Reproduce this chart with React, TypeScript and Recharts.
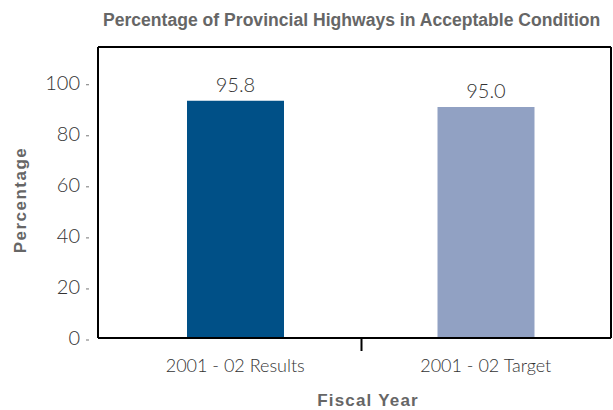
import React from 'react';
import { BarChart, Bar, XAxis, YAxis, Cell, LabelList } from 'recharts';

const categories = ['2001 - 02 Results', '2001 - 02 Target'];
const barHeights = [92.9, 90.5];
const valueLabels = ['95.8', '95.0'];
const yTicks = [0, 20, 40, 60, 80, 100];
const colors = ['#005087', '#91a1c3'];

const data = categories.map((name, i) => ({ name, value: barHeights[i], label: valueLabels[i] }));

const LIGHT = 'Lato, "Open Sans", sans-serif';
const BOLD = '"Liberation Sans", Arial, sans-serif';

const YTick = (props: any) => {
  const { x, y, payload } = props;
  return (
    <g>
      <text x={x - 10} y={y} dy={7} textAnchor="end" fontFamily={LIGHT} fontWeight={300} fontSize={20} fill="#333">
        {payload.value}
      </text>
      <line x1={x - 4} x2={x - 1} y1={y + 2} y2={y + 2} stroke="#777" strokeWidth={1} />
    </g>
  );
};

const XTick = (props: any) => {
  const { x, y, payload, index } = props;
  const half = payload && typeof payload.offset === 'number' ? payload.offset : 0;
  return (
    <g>
      {index === 0 && half > 0 ? (
        <line x1={x + 1 + half} x2={x + 1 + half} y1={y - 9} y2={y + 5} stroke="#000" strokeWidth={2} />
      ) : null}
      <text x={x} y={y} dy={26} textAnchor="middle" fontFamily={LIGHT} fontWeight={300} fontSize={18} fill="#333">
        {payload.value}
      </text>
    </g>
  );
};

export default function App() {
  return (
    <div style={{ position: 'absolute', left: 0, top: 0, width: 613, height: 410, background: '#fff' }}>
      <svg width={613} height={40} style={{ position: 'absolute', left: 0, top: 0 }}>
        <text
          x={0}
          y={0}
          transform="translate(103 26) scale(0.925 1)"
          fontFamily={BOLD}
          fontWeight={700}
          fontSize={19}
          fill="#666"
        >
          Percentage of Provincial Highways in Acceptable Condition
        </text>
      </svg>
      <BarChart width={613} height={410} data={data} margin={{ top: 46, right: 1, left: 0, bottom: 0 }}>
        <XAxis
          dataKey="name"
          padding={{ left: 12, right: 0 }}
          height={72}
          axisLine={{ stroke: '#000', strokeWidth: 2 }}
          tickLine={false}
          tick={<XTick />}
          interval={0}
          label={{
            content: () => (
              <text x={368} y={406} textAnchor="middle" fontFamily={BOLD} fontWeight={700} fontSize={17} letterSpacing={1.2} fill="#666">
                Fiscal Year
              </text>
            ),
          }}
        />
        <XAxis xAxisId="top" orientation="top" height={1} axisLine={{ stroke: '#000', strokeWidth: 2 }} tick={false} tickLine={false} />
        <YAxis
          domain={[0, 114]}
          ticks={yTicks}
          width={98}
          axisLine={{ stroke: '#000', strokeWidth: 2 }}
          tickLine={false}
          tick={<YTick />}
          interval={0}
          label={{
            content: () => (
              <text x={26} y={200} transform="rotate(-90 26 200)" textAnchor="middle" fontFamily={BOLD} fontWeight={700} fontSize={17} letterSpacing={1.5} fill="#666">
                Percentage
              </text>
            ),
          }}
        />
        <YAxis yAxisId="r" orientation="right" width={1} axisLine={{ stroke: '#000', strokeWidth: 2 }} tick={false} tickLine={false} />
        <Bar dataKey="value" barSize={97} isAnimationActive={false}>
          {data.map((d, i) => (
            <Cell key={d.name} fill={colors[i]} />
          ))}
          <LabelList
            dataKey="label"
            position="top"
            offset={9}
            style={{ fontFamily: LIGHT, fontWeight: 300, fontSize: 20, fill: '#333' }}
          />
        </Bar>
      </BarChart>
    </div>
  );
}
